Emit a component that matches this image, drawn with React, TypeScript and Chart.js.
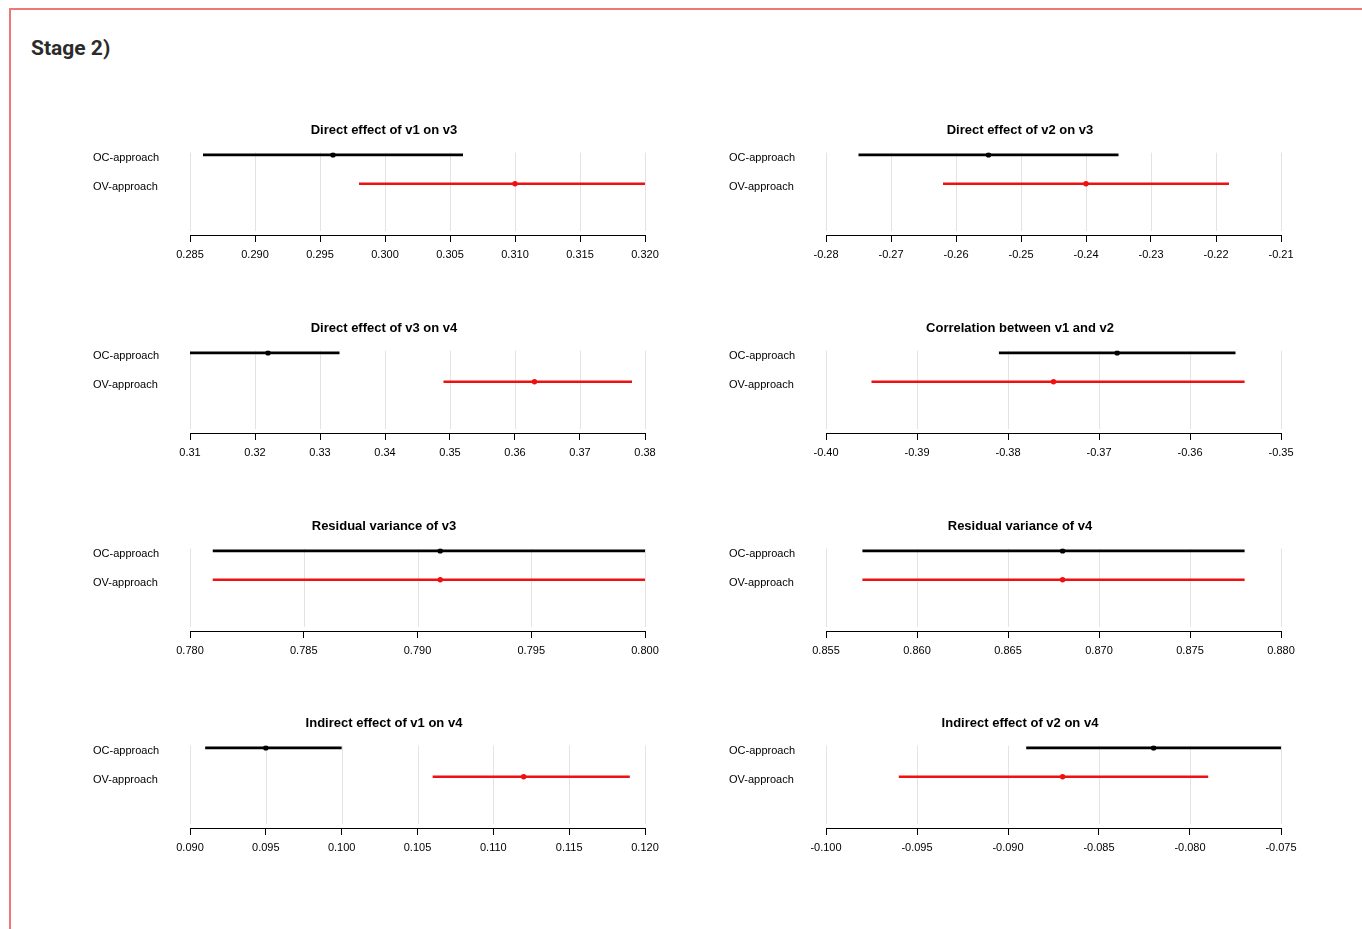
import React, { useEffect, useRef } from "react";
import { Chart, registerables } from "chart.js";

Chart.register(...registerables);

const panelTitles = [
  "Direct effect of v1 on v3",
  "Direct effect of v2 on v3",
  "Direct effect of v3 on v4",
  "Correlation between v1 and v2",
  "Residual variance of v3",
  "Residual variance of v4",
  "Indirect effect of v1 on v4",
  "Indirect effect of v2 on v4",
];

const seriesNames = ["OC-approach", "OV-approach"];

const ocLow = [0.286, -0.275, 0.31, -0.381, 0.781, 0.857, 0.091, -0.089];
const ocEst = [0.296, -0.255, 0.322, -0.368, 0.791, 0.868, 0.095, -0.082];
const ocHigh = [0.306, -0.235, 0.333, -0.355, 0.801, 0.878, 0.1, -0.075];

const ovLow = [0.298, -0.262, 0.349, -0.395, 0.781, 0.857, 0.106, -0.096];
const ovEst = [0.31, -0.24, 0.363, -0.375, 0.791, 0.868, 0.112, -0.087];
const ovHigh = [0.322, -0.218, 0.378, -0.354, 0.801, 0.878, 0.119, -0.079];

const tickLabels = [
  ["0.285", "0.290", "0.295", "0.300", "0.305", "0.310", "0.315", "0.320"],
  ["-0.28", "-0.27", "-0.26", "-0.25", "-0.24", "-0.23", "-0.22", "-0.21"],
  ["0.31", "0.32", "0.33", "0.34", "0.35", "0.36", "0.37", "0.38"],
  ["-0.40", "-0.39", "-0.38", "-0.37", "-0.36", "-0.35"],
  ["0.780", "0.785", "0.790", "0.795", "0.800"],
  ["0.855", "0.860", "0.865", "0.870", "0.875", "0.880"],
  ["0.090", "0.095", "0.100", "0.105", "0.110", "0.115", "0.120"],
  ["-0.100", "-0.095", "-0.090", "-0.085", "-0.080", "-0.075"],
];

const FONT = "'Liberation Sans', Arial, Helvetica, sans-serif";
const BLACK = "#000000";
const RED = "#ee1111";

const CANVAS_W = 608;
const CANVAS_H = 160;
const COL_LEFT = [80, 716];
const ROW_TOP = [110, 308, 506, 703];

const gridPlugin = {
  id: "rStyleGrid",
  beforeDatasetsDraw(chart: any) {
    const { ctx, chartArea, scales } = chart;
    const xs = scales.x;
    ctx.save();
    ctx.strokeStyle = "#e3e3e3";
    ctx.lineWidth = 1;
    xs.ticks.forEach((t: any) => {
      const px = Math.round(xs.getPixelForValue(t.value)) + 0.5;
      ctx.beginPath();
      ctx.moveTo(px, chartArea.top);
      ctx.lineTo(px, chartArea.bottom - 4);
      ctx.stroke();
    });
    ctx.restore();
  },
};

function Panel({ idx }: { idx: number }) {
  const ref = useRef<HTMLCanvasElement | null>(null);
  useEffect(() => {
    const labels = tickLabels[idx];
    const vals = labels.map(Number);
    const lineDs = (lo: number, hi: number, y: number, color: string) => ({
      data: [
        { x: lo, y },
        { x: hi, y },
      ],
      showLine: true,
      borderColor: color,
      backgroundColor: color,
      borderWidth: 2.6,
      pointRadius: 0,
      clip: 0,
    });
    const ptDs = (v: number, y: number, color: string) => ({
      data: [{ x: v, y }],
      showLine: false,
      pointRadius: 2.7,
      pointBorderWidth: 0,
      pointBackgroundColor: color,
      borderColor: color,
      backgroundColor: color,
    });
    const chart = new Chart(ref.current as HTMLCanvasElement, {
      type: "scatter",
      data: {
        datasets: [
          lineDs(ocLow[idx], ocHigh[idx], 1, BLACK),
          ptDs(ocEst[idx], 1, BLACK),
          lineDs(ovLow[idx], ovHigh[idx], 2, RED),
          ptDs(ovEst[idx], 2, RED),
        ] as any,
      },
      options: {
        responsive: false,
        animation: false,
        events: [],
        layout: { padding: { left: 43, right: 43, top: 0, bottom: 0 } },
        plugins: {
          legend: { display: false },
          tooltip: { enabled: false },
          title: {
            display: true,
            text: panelTitles[idx],
            color: BLACK,
            font: { family: FONT, size: 13, weight: "bold" },
            padding: { top: 13, bottom: 14 },
          },
        },
        scales: {
          x: {
            type: "linear",
            min: vals[0],
            max: vals[vals.length - 1],
            afterBuildTicks: (s: any) => {
              s.ticks = vals.map((v) => ({ value: v }));
            },
            afterFit: (s: any) => {
              s.height = 35;
            },
            ticks: {
              autoSkip: false,
              maxRotation: 0,
              padding: 6,
              color: BLACK,
              font: { family: FONT, size: 11 },
              callback: (_v: any, i: number) => labels[i],
            },
            grid: {
              drawOnChartArea: false,
              drawTicks: true,
              tickLength: 7,
              color: BLACK,
              lineWidth: 1,
            },
            border: { display: true, color: BLACK, width: 1 },
          },
          y: {
            type: "linear",
            reverse: true,
            min: 0.92,
            max: 3.78,
            afterBuildTicks: (s: any) => {
              s.ticks = [{ value: 1.1 }, { value: 2.1 }];
            },
            afterFit: (s: any) => {
              s.width = 67;
            },
            ticks: {
              mirror: true,
              crossAlign: "near",
              padding: -97,
              color: BLACK,
              font: { family: FONT, size: 11 },
              callback: (_v: any, i: number) => seriesNames[i],
            },
            grid: { display: false, drawTicks: false },
            border: { display: false },
          },
        },
      } as any,
      plugins: [gridPlugin],
    });
    return () => chart.destroy();
  }, [idx]);

  const col = idx % 2;
  const row = Math.floor(idx / 2);
  return (
    <canvas
      ref={ref}
      width={CANVAS_W}
      height={CANVAS_H}
      style={{
        position: "absolute",
        left: COL_LEFT[col],
        top: ROW_TOP[row],
        width: CANVAS_W,
        height: CANVAS_H,
        display: "block",
      }}
    />
  );
}

export default function App() {
  useEffect(() => {
    document.body.style.overflow = "hidden";
  }, []);
  return (
    <div
      style={{
        position: "fixed",
        left: 0,
        top: 0,
        width: 1362,
        height: 929,
        background: "#ffffff",
        overflow: "hidden",
      }}
    >
      <div
        style={{
          position: "absolute",
          left: 9,
          top: 8,
          width: 1353,
          height: 921,
          boxSizing: "border-box",
          borderTop: "2px solid #eb7878",
          borderLeft: "2px solid #eb7878",
        }}
      />
      <div
        style={{
          position: "absolute",
          left: 31,
          top: 38,
          fontFamily: "Roboto, 'Open Sans', sans-serif",
          fontWeight: 700,
          fontSize: 21,
          lineHeight: "21px",
          color: "#2b2b2b",
          whiteSpace: "nowrap",
        }}
      >
        Stage 2)
      </div>
      {panelTitles.map((_, i) => (
        <Panel key={i} idx={i} />
      ))}
    </div>
  );
}
